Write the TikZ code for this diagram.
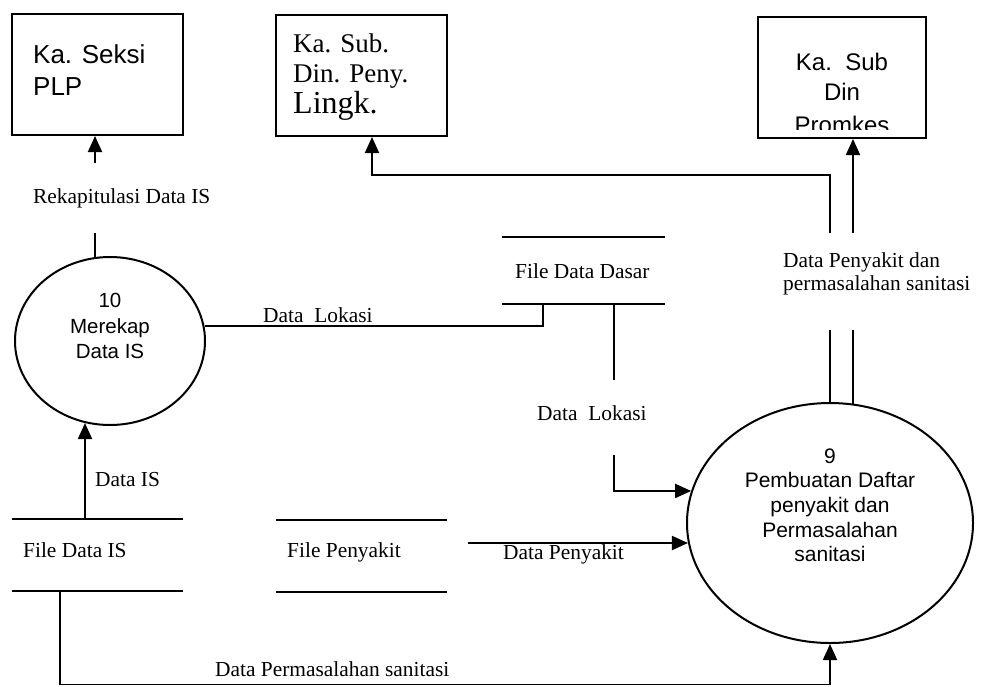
\documentclass[tikz,border=0pt]{standalone}
\usepackage{fontspec}
\setmainfont{Liberation Serif}
\newfontfamily\arialfont{Liberation Sans}
\usetikzlibrary{shapes.geometric,arrows.meta,calc}

\begin{document}
\begin{tikzpicture}[x=1pt,y=-1pt,
  flow/.style={draw, line width=1.9pt},
  arr/.style={flow, -{Triangle[length=16pt,width=14pt]}},
  entity/.style={draw, line width=2pt, rectangle, inner sep=0pt},
  proc/.style={draw, line width=2pt, ellipse, inner sep=0pt},
  store/.style={rectangle, inner sep=0pt},
  storeline/.style={line width=2pt},
  lbl/.style={font=\fontsize{21.4}{24}\selectfont, inner sep=0pt, anchor=base west},
  ptxt/.style={font=\arialfont\fontsize{20.5}{24}\selectfont, inner sep=0pt, anchor=base},
  etxt/.style={font=\arialfont\fontsize{26}{30}\selectfont, inner sep=0pt, anchor=base west},
  stxt/.style={font=\fontsize{27}{30}\selectfont, inner sep=0pt, anchor=base west},
]
\useasboundingbox (0,0) rectangle (981,686);

% external entities
\node[entity, minimum width=171pt, minimum height=121pt] (plp) at (97.5,74.5) {};
\node[entity, minimum width=171pt, minimum height=121pt] (lingk) at (361.5,75.5) {};
\node[entity, minimum width=168pt, minimum height=121pt] (promkes) at (842,77.5) {};

\node[etxt] (plpA) at (33,63) {Ka. Seksi};
\node[etxt] (plpB) at (33,95) {PLP};

\node[stxt] (lingkA) at (293,52) {Ka. Sub.};
\node[stxt] (lingkB) at (293,82) {Din. Peny.};
\node[stxt, font=\fontsize{32}{34}\selectfont] (lingkC) at (293,113) {Lingk.};

\node[etxt, anchor=base, font=\arialfont\fontsize{24}{28}\selectfont] (promA) at (842,70) {Ka.\ \ Sub};
\node[etxt, anchor=base, font=\arialfont\fontsize{24}{28}\selectfont] (promB) at (842,100) {Din};
\begin{scope}
  \clip (758,17) rectangle (926,129);
  \node[etxt, anchor=base, font=\arialfont\fontsize{24}{28}\selectfont] (promC) at (842,133) {Promkes};
\end{scope}

% processes
\node[proc, minimum width=190pt, minimum height=168pt] (c10) at (110,341) {};
\node[ptxt] (c10a) at (110,307) {10};
\node[ptxt] (c10b) at (110,333) {Merekap};
\node[ptxt] (c10c) at (110,358) {Data IS};

\node[proc, minimum width=286pt, minimum height=240pt] (c9) at (830,523) {};
\node[ptxt, font=\arialfont\fontsize{21}{24}\selectfont] (c9a) at (830,463) {9};
\node[ptxt, font=\arialfont\fontsize{21}{24}\selectfont] (c9b) at (830,487) {Pembuatan Daftar};
\node[ptxt, font=\arialfont\fontsize{21}{24}\selectfont] (c9c) at (830,512) {penyakit dan};
\node[ptxt, font=\arialfont\fontsize{21}{24}\selectfont] (c9d) at (830,537) {Permasalahan};
\node[ptxt, font=\arialfont\fontsize{21}{24}\selectfont] (c9e) at (830,561) {sanitasi};

% data stores
\node[store, minimum width=163pt, minimum height=67pt] (fdd) at (583.5,270.5) {};
\node[store, minimum width=171pt, minimum height=72pt] (fdis) at (97.5,555) {};
\node[store, minimum width=171pt, minimum height=72pt] (fpen) at (361.5,556) {};
\foreach \s in {fdd,fdis,fpen}{
  \draw[storeline] (\s.north west) -- (\s.north east) (\s.south west) -- (\s.south east);
}
\node[lbl] (fddT) at (515,278) {File Data Dasar};
\node[lbl] (fdisT) at (23,557) {File Data IS};
\node[lbl] (fpenT) at (287,557) {File Penyakit};

% Rekapitulasi Data IS
\coordinate (rkA) at (95,233);
\coordinate (rkB) at (95,163);
\draw[flow] (c10.100 -| rkA) -- (rkA);
\draw[arr] (rkB) -- (rkB |- plp.south);
\node[lbl] (rkT) at (33,203) {Rekapitulasi Data IS};

% Data Lokasi (process 10 to store)
\coordinate (lkA) at (543,326);
\draw[flow] (lkA -| c10.9) -- (lkA) -- (lkA |- fdd.south);
\node[lbl] (lk1T) at (263,322) {Data\ \ Lokasi};

% Data Lokasi (store to process 9)
\coordinate (lkB) at (614,380);
\coordinate (lkC) at (614,455);
\draw[flow] (lkB |- fdd.south) -- (lkB);
\draw[arr] (lkC) |- (c9.167);
\node[lbl] (lk2T) at (537,420) {Data\ \ Lokasi};

% Data IS
\coordinate (isA) at (85,519);
\draw[arr] (isA |- fdis.north) -- (isA |- c10.253);
\node[lbl] (isT) at (95,486) {Data IS};

% Data Penyakit
\coordinate (dpA) at (468,543);
\draw[arr] (dpA) -- (dpA -| c9.188);
\node[lbl] (dpT) at (503,559) {Data Penyakit};

% Data Permasalahan sanitasi
\coordinate (pmA) at (60,684.5);
\draw[arr] (pmA |- fdis.south) -- (pmA) -| (c9.south);
\node[lbl] (pmT) at (215,676) {Data Permasalahan sanitasi};

% Data Penyakit dan permasalahan sanitasi
\coordinate (ouL) at (830,330);
\coordinate (ouR) at (853,330);
\coordinate (upL) at (830,233);
\coordinate (upR) at (853,233);
\coordinate (bend) at (372,175);
\draw[flow] (c9.north) -- (ouL);
\draw[flow] (ouR |- c9.79) -- (ouR);
\draw[arr] (upL) |- (bend) -- (bend |- lingk.south);
\draw[arr] (upR) -- (upR |- promkes.south);
\node[lbl] (ouT1) at (783,267) {Data Penyakit dan};
\node[lbl] (ouT2) at (783,290) {permasalahan sanitasi};

\end{tikzpicture}
\end{document}
